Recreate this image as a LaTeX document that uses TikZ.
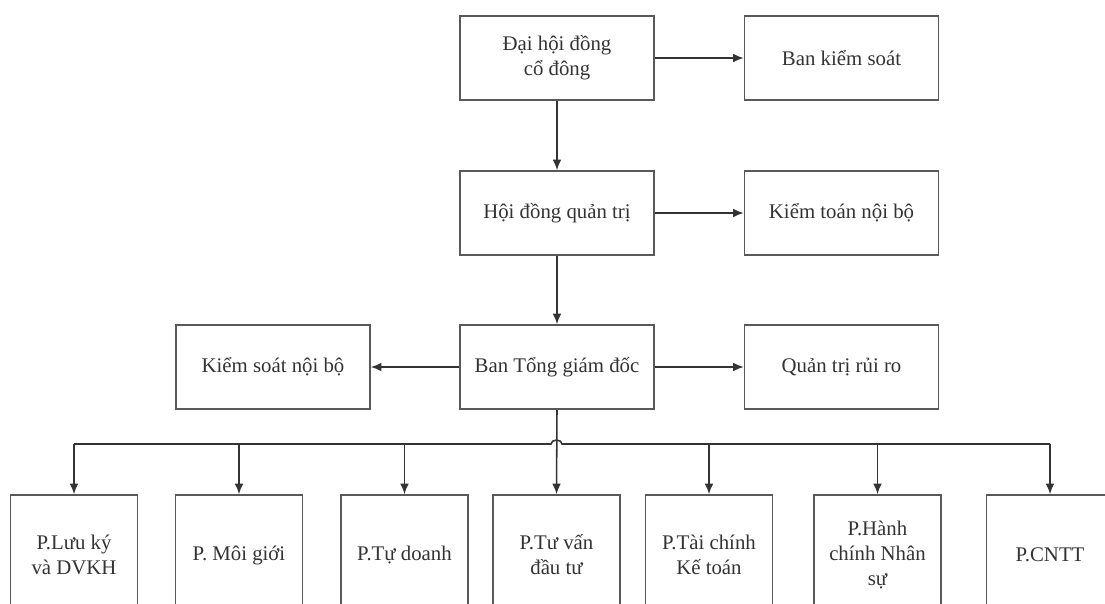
\documentclass[tikz,border=0pt]{standalone}
\usepackage{fontspec}
\setmainfont{Liberation Serif}
\usetikzlibrary{arrows.meta}

\begin{document}
\begin{tikzpicture}[x=0.025cm, y=-0.025cm,
    every node/.style={font=\fontsize{14.8}{17.7}\selectfont, text=black!80},
    box/.style={draw=black!65, line width=1.1pt, align=center, minimum width=4.85cm, minimum height=2.1cm},
    dept/.style={draw=black!65, line width=1.1pt, align=center, minimum width=3.17cm, minimum height=3cm},
    link/.style={draw=black!80, line width=1.1pt},
    arr/.style={link, -{Latex[length=7.5pt,width=6.2pt]}}]
    \clip (0,0) rectangle (1105,604);

    % top levels
    \node[box] (dhcd) at (557,58) {Đại hội đồng\\cổ đông};
    \node[box] (bks) at (841.5,58) {Ban kiểm soát};
    \node[box] (hdqt) at (557,213) {Hội đồng quản trị};
    \node[box] (ktnb) at (841.5,213) {Kiểm toán nội bộ};
    \node[box] (tgd) at (557,367) {Ban Tổng giám đốc};
    \node[box] (ksnb) at (273,367) {Kiểm soát nội bộ};
    \node[box] (qtrr) at (841.5,367) {Quản trị rủi ro};

    % departments
    \node[dept] (p1) at (74,555) {P.Lưu ký\\và DVKH};
    \node[dept] (p2) at (239,555) {P. Môi giới};
    \node[dept] (p3) at (404.5,555) {P.Tự doanh};
    \node[dept] (p4) at (556.5,555) {P.Tư vấn\\đầu tư};
    \node[dept] (p5) at (709,555) {P.Tài chính\\Kế toán};
    \node[dept] (p6) at (877.5,555) {P.Hành\\chính Nhân\\sự};
    \node[dept] (p7) at (1050,555) {P.CNTT};

    % edges
    \draw[arr] (dhcd) -- (bks);
    \draw[arr] (dhcd) -- (hdqt);
    \draw[arr] (hdqt) -- (ktnb);
    \draw[arr] (hdqt) -- (tgd);
    \draw[arr] (tgd) -- (ksnb);
    \draw[arr] (tgd) -- (qtrr);
    \draw[arr] (tgd.south) -- (p4.north);

    % bus with hop
    \coordinate (bus) at (556.5,444);
    \draw[link] (p1.north |- bus) -- ([xshift=-5.5*0.025cm]bus) arc[start angle=180, end angle=0, x radius=5.5, y radius=-4] -- (p7.north |- bus);
    \foreach \i in {1,2,3,5,6,7}
        \draw[arr] (p\i.north |- bus) -- (p\i.north);
\end{tikzpicture}
\end{document}
